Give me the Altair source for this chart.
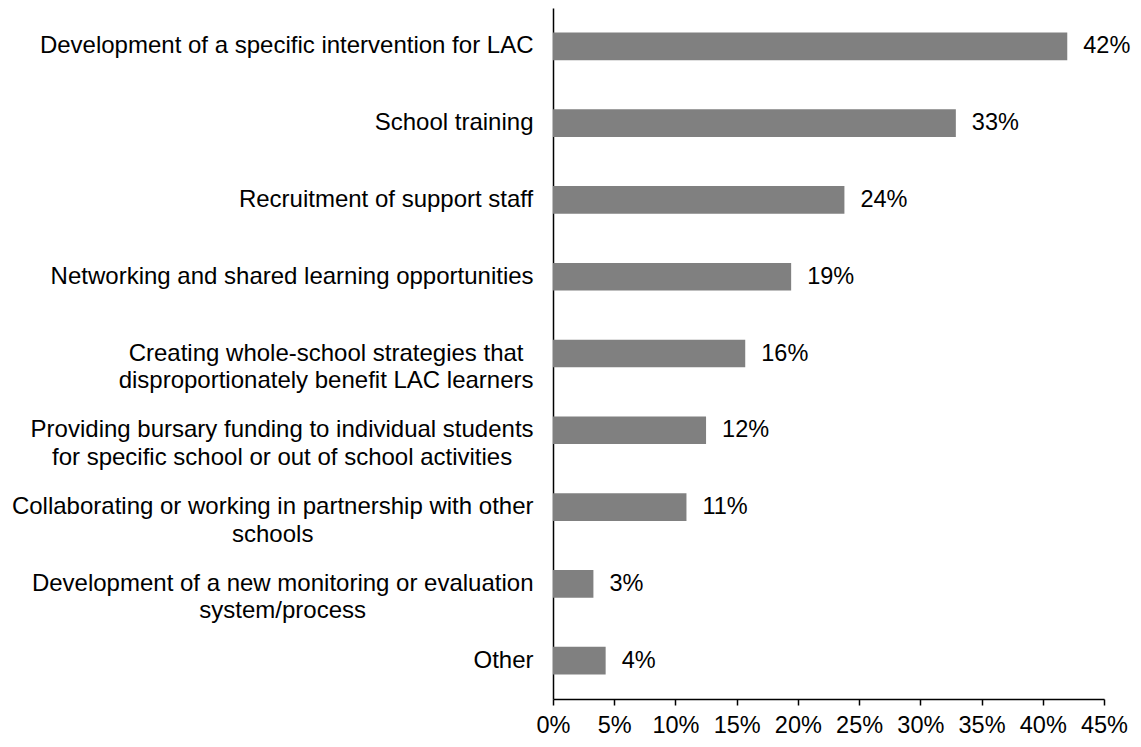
import altair as alt
import pandas as pd

categories = [
    "Development of a specific intervention for LAC",
    "School training",
    "Recruitment of support staff",
    "Networking and shared learning opportunities",
    "Creating whole-school strategies that|disproportionately benefit LAC learners",
    "Providing bursary funding to individual students|for specific school or out of school activities",
    "Collaborating or working in partnership with other|schools",
    "Development of a new monitoring or evaluation|system/process",
    "Other",
]
values = [42.0, 32.9, 23.8, 19.45, 15.7, 12.5, 10.9, 3.3, 4.3]
value_labels = ["42%", "33%", "24%", "19%", "16%", "12%", "11%", "3%", "4%"]
x_ticks = [0, 5, 10, 15, 20, 25, 30, 35, 40, 45]

FONT = "Liberation Sans, Arial, Helvetica, sans-serif"
LABEL_SIZE = 24
VALUE_SIZE = 23.5
GAP = 20

# Arial / Liberation Sans advance widths (per 1000 em), used to centre multi-line labels
_W = {" ": 278, "-": 333, "/": 278, "%": 889}
_W.update({d: 556 for d in "0123456789"})
_W.update(dict(zip("abcdefghijklmnopqrstuvwxyz",
                   [556, 556, 500, 556, 556, 278, 556, 556, 222, 222, 500, 222, 833,
                    556, 556, 556, 556, 333, 500, 278, 556, 500, 722, 500, 500, 500])))
_W.update(dict(zip("ABCDEFGHIJKLMNOPQRSTUVWXYZ",
                   [667, 667, 722, 722, 667, 611, 778, 722, 278, 500, 667, 556, 833,
                    722, 778, 667, 778, 722, 667, 611, 722, 667, 944, 667, 667, 611])))


def text_width(s, size):
    return sum(_W.get(ch, 556) for ch in s) * size / 1000.0


conditions = []
for c in categories:
    w = max(text_width(line, LABEL_SIZE) for line in c.split("|"))
    conditions.append({"test": "datum.value === " + repr(c).replace("'", '"'),
                       "value": round(GAP + w / 2, 1)})

df = pd.DataFrame({"category": categories, "value": values, "label": value_labels})

y_enc = alt.Y(
    "category:N",
    sort=None,
    title=None,
    scale=alt.Scale(paddingInner=0.64, paddingOuter=0.32),
    axis=alt.Axis(
        labelExpr="split(datum.label, '|')",
        labelAlign="center",
        labelBaseline="middle",
        labelPadding={"condition": conditions, "value": GAP},
        labelLineHeight=27.6,
        labelFont=FONT,
        labelFontSize=LABEL_SIZE,
        labelColor="#000000",
        labelLimit=0,
        ticks=False,
        domainColor="#000000",
        domainWidth=1.5,
        grid=False,
    ),
)

x_enc = alt.X(
    "value:Q",
    title=None,
    scale=alt.Scale(domain=[0, 45], nice=False),
    axis=alt.Axis(
        values=x_ticks,
        labelExpr="datum.value + '%'",
        labelFont=FONT,
        labelFontSize=VALUE_SIZE,
        labelColor="#000000",
        labelPadding=8,
        labelOverlap=False,
        labelFlush=False,
        labelLimit=0,
        tickSize=6,
        tickColor="#000000",
        tickWidth=1.5,
        domainColor="#000000",
        domainWidth=1.5,
        grid=False,
    ),
)

bars = alt.Chart(df).mark_bar(color="#808080").encode(x=x_enc, y=y_enc)

texts = alt.Chart(df).mark_text(
    align="left", baseline="middle", dx=16, font=FONT, fontSize=VALUE_SIZE, color="#000000"
).encode(x="value:Q", y=alt.Y("category:N", sort=None), text="label:N")

chart = (
    alt.layer(bars, texts)
    .properties(
        width=551,
        height=691,
        background="#ffffff",
        autosize=alt.AutoSizeParams(type="none"),
        padding={"left": 545, "top": 0, "right": 28, "bottom": 38},
    )
    .configure_view(stroke=None, strokeWidth=0)
)

chart.save("out.html", embed_options={"renderer": "svg", "actions": False})
